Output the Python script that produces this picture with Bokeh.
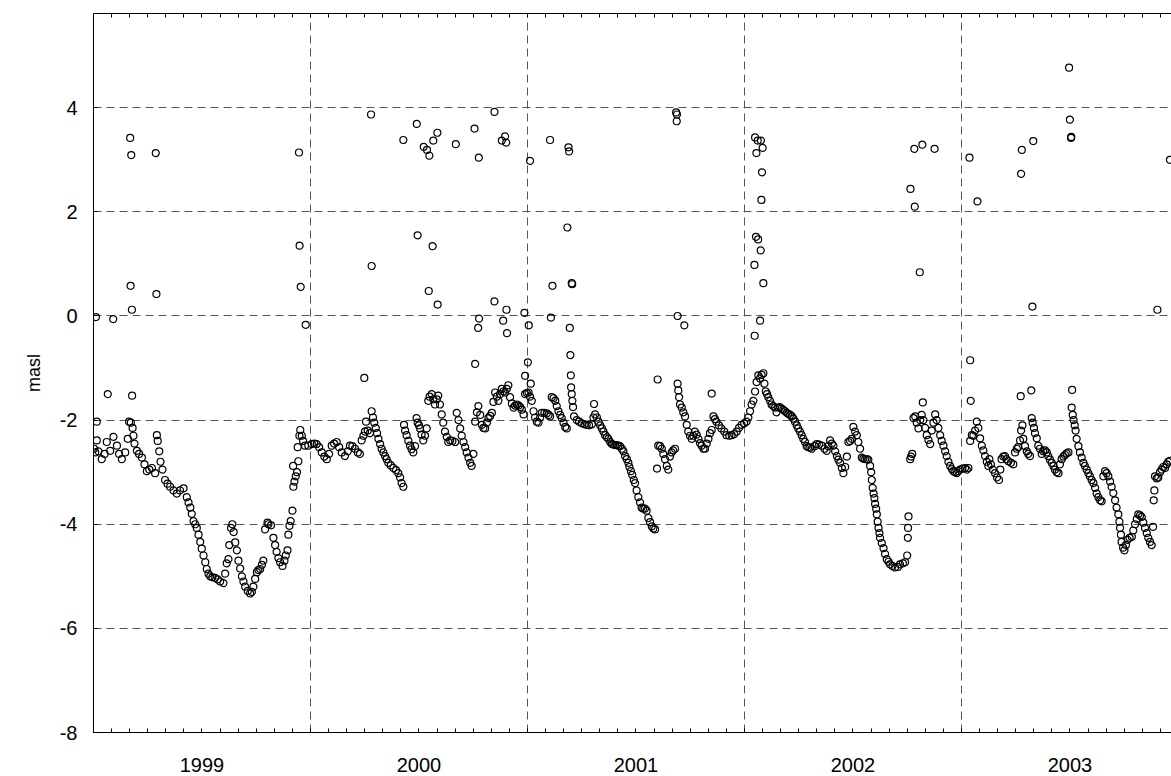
from bokeh.plotting import figure
from bokeh.models import FixedTicker, LinearAxis, Range1d, ColumnDataSource, Grid
from bokeh.embed import file_html
from bokeh.resources import INLINE

# ---- data: (decimal year, water level in masl) ----
seg_1999 = [
    (1999.003, -2.55), (1999.008, -2.62), (1999.015, -2.39), (1999.023, -2.60), (1999.038, -2.75),
    (1999.051, -2.65), (1999.061, -2.42), (1999.077, -2.59), (1999.092, -2.32), (1999.108, -2.49),
    (1999.118, -2.65), (1999.131, -2.75), (1999.146, -2.62), (1999.158, -2.36), (1999.164, -2.03),
    (1999.172, -2.05), (1999.180, -2.15), (1999.184, -2.30), (1999.189, -2.45), (1999.200, -2.59),
    (1999.210, -2.65), (1999.223, -2.72), (1999.235, -2.85), (1999.246, -2.98), (1999.257, -2.95),
    (1999.269, -2.92), (1999.284, -3.02), (1999.292, -2.29), (1999.296, -2.40), (1999.303, -2.60),
    (1999.309, -2.80), (1999.318, -2.95), (1999.330, -3.15), (1999.341, -3.22), (1999.353, -3.28),
    (1999.369, -3.35), (1999.384, -3.41), (1999.399, -3.35), (1999.415, -3.31), (1999.430, -3.48),
    (1999.438, -3.58), (1999.446, -3.68), (1999.453, -3.80), (1999.461, -3.94), (1999.469, -4.00),
    (1999.476, -4.07), (1999.484, -4.20), (1999.492, -4.34), (1999.499, -4.47), (1999.507, -4.60),
    (1999.515, -4.73), (1999.522, -4.86), (1999.530, -4.95), (1999.538, -5.00), (1999.548, -5.02),
    (1999.561, -5.03), (1999.573, -5.06), (1999.584, -5.10), (1999.599, -5.13), (1999.607, -4.95),
    (1999.614, -4.75), (1999.622, -4.67), (1999.626, -4.40), (1999.634, -4.07), (1999.640, -4.00),
    (1999.646, -4.15), (1999.653, -4.35), (1999.661, -4.50), (1999.668, -4.70), (1999.676, -4.85),
    (1999.684, -5.00), (1999.691, -5.10), (1999.699, -5.20), (1999.711, -5.28), (1999.722, -5.33),
    (1999.730, -5.30), (1999.737, -5.20), (1999.745, -5.05), (1999.753, -4.92), (1999.760, -4.88),
    (1999.768, -4.86), (1999.776, -4.78), (1999.783, -4.70), (1999.791, -4.10), (1999.802, -3.97),
    (1999.806, -4.00), (1999.818, -4.02), (1999.829, -4.26), (1999.837, -4.40), (1999.844, -4.53),
    (1999.852, -4.65), (1999.860, -4.73), (1999.871, -4.80), (1999.880, -4.70), (1999.886, -4.60),
    (1999.894, -4.50), (1999.898, -4.20), (1999.903, -4.03), (1999.909, -3.94), (1999.917, -3.74),
    (1999.920, -2.88), (1999.921, -3.28), (1999.926, -3.18), (1999.932, -3.08), (1999.938, -3.00),
    (1999.941, -2.52), (1999.944, -2.79), (1999.949, -2.30), (1999.953, -2.19), (1999.960, -2.30),
    (1999.966, -2.40), (1999.975, -2.49), (1999.990, -2.49),
]
seg_2000 = [
    (2000.006, -2.46), (2000.018, -2.45), (2000.029, -2.46), (2000.040, -2.52), (2000.052, -2.62),
    (2000.064, -2.70), (2000.075, -2.75), (2000.086, -2.65), (2000.098, -2.49), (2000.109, -2.45),
    (2000.121, -2.42), (2000.132, -2.52), (2000.144, -2.62), (2000.159, -2.69), (2000.172, -2.60),
    (2000.182, -2.49), (2000.193, -2.50), (2000.205, -2.55), (2000.218, -2.62), (2000.228, -2.65),
    (2000.236, -2.39), (2000.244, -2.30), (2000.251, -2.22), (2000.264, -2.20), (2000.274, -2.25),
    (2000.282, -1.83), (2000.288, -1.95), (2000.294, -2.05), (2000.301, -2.15), (2000.307, -2.25),
    (2000.313, -2.36), (2000.321, -2.46), (2000.328, -2.55), (2000.336, -2.62), (2000.344, -2.69),
    (2000.351, -2.75), (2000.359, -2.82), (2000.370, -2.87), (2000.382, -2.92), (2000.394, -2.96),
    (2000.405, -3.02), (2000.413, -3.10), (2000.420, -3.21), (2000.428, -3.28), (2000.431, -2.09),
    (2000.436, -2.20), (2000.443, -2.29), (2000.451, -2.40), (2000.459, -2.49), (2000.466, -2.56),
    (2000.474, -2.62), (2000.482, -2.50), (2000.489, -1.96), (2000.494, -2.05), (2000.500, -2.10),
    (2000.505, -2.16), (2000.512, -2.28), (2000.520, -2.39), (2000.528, -2.30), (2000.536, -2.16),
    (2000.543, -1.63), (2000.549, -1.55), (2000.559, -1.50), (2000.566, -1.60), (2000.574, -1.70),
    (2000.582, -1.60), (2000.589, -1.53), (2000.597, -1.70), (2000.605, -1.89), (2000.612, -2.05),
    (2000.620, -2.22), (2000.628, -2.32), (2000.635, -2.42), (2000.644, -2.39), (2000.654, -2.40),
    (2000.667, -2.42), (2000.674, -1.86), (2000.682, -2.00), (2000.690, -2.16), (2000.697, -2.30),
    (2000.705, -2.42), (2000.713, -2.52), (2000.720, -2.62), (2000.728, -2.72), (2000.736, -2.82),
    (2000.743, -2.88), (2000.751, -2.65), (2000.759, -2.03), (2000.767, -1.85), (2000.774, -1.73),
    (2000.782, -1.90), (2000.790, -2.09), (2000.797, -2.15), (2000.805, -2.16), (2000.813, -2.05),
    (2000.820, -1.96), (2000.828, -1.92), (2000.836, -1.86), (2000.843, -1.65), (2000.851, -1.47),
    (2000.859, -1.55), (2000.866, -1.63), (2000.874, -1.50), (2000.882, -1.40), (2000.889, -1.45),
    (2000.897, -1.47), (2000.905, -1.40), (2000.912, -1.33), (2000.920, -1.56), (2000.928, -1.68),
    (2000.936, -1.76), (2000.943, -1.72), (2000.951, -1.70), (2000.959, -1.72), (2000.966, -1.75),
    (2000.974, -1.80), (2000.982, -1.89), (2000.989, -1.50), (2000.997, -1.48),
]
seg_2001 = [
    (2001.005, -1.47), (2001.012, -1.55), (2001.020, -1.63), (2001.028, -1.83), (2001.035, -1.95),
    (2001.043, -2.03), (2001.051, -2.05), (2001.058, -1.95), (2001.066, -1.86), (2001.078, -1.86),
    (2001.089, -1.87), (2001.097, -1.90), (2001.104, -1.93), (2001.112, -1.56), (2001.120, -1.58),
    (2001.128, -1.63), (2001.135, -1.73), (2001.143, -1.83), (2001.151, -1.90), (2001.158, -1.96),
    (2001.166, -2.05), (2001.174, -2.13), (2001.181, -2.16), (2001.201, -1.37), (2001.204, -1.50),
    (2001.207, -1.63), (2001.210, -1.75), (2001.215, -1.93), (2001.227, -2.00), (2001.238, -2.03),
    (2001.250, -2.06), (2001.263, -2.08), (2001.273, -2.09), (2001.284, -2.10), (2001.297, -2.08),
    (2001.304, -1.95), (2001.312, -1.89), (2001.320, -1.95), (2001.327, -2.03), (2001.335, -2.10),
    (2001.343, -2.16), (2001.350, -2.22), (2001.358, -2.29), (2001.366, -2.33), (2001.373, -2.36),
    (2001.381, -2.42), (2001.389, -2.46), (2001.396, -2.47), (2001.404, -2.48), (2001.412, -2.48),
    (2001.419, -2.49), (2001.427, -2.50), (2001.435, -2.55), (2001.442, -2.60), (2001.450, -2.69),
    (2001.458, -2.75), (2001.465, -2.82), (2001.470, -2.90), (2001.477, -2.98), (2001.483, -3.05),
    (2001.490, -3.15), (2001.496, -3.21), (2001.503, -3.35), (2001.511, -3.48), (2001.519, -3.58),
    (2001.526, -3.68), (2001.534, -3.70), (2001.542, -3.70), (2001.549, -3.74), (2001.557, -3.88),
    (2001.565, -3.96), (2001.573, -4.04), (2001.580, -4.08), (2001.588, -4.10),
    (2001.603, -2.49), (2001.611, -2.50), (2001.619, -2.55), (2001.626, -2.65), (2001.634, -2.75),
    (2001.642, -2.88), (2001.649, -2.95), (2001.657, -2.70), (2001.665, -2.62), (2001.672, -2.58),
    (2001.680, -2.55), (2001.692, -1.30), (2001.695, -1.43), (2001.699, -1.56), (2001.703, -1.70),
    (2001.711, -1.76), (2001.718, -1.85), (2001.726, -1.93), (2001.734, -2.09), (2001.741, -2.22),
    (2001.749, -2.30), (2001.757, -2.36), (2001.764, -2.30), (2001.772, -2.22), (2001.780, -2.28),
    (2001.788, -2.36), (2001.795, -2.44), (2001.803, -2.49), (2001.811, -2.55), (2001.818, -2.55),
    (2001.826, -2.45), (2001.834, -2.36), (2001.841, -2.25), (2001.849, -2.19), (2001.857, -1.93),
    (2001.864, -1.98), (2001.871, -2.03), (2001.882, -2.10), (2001.894, -2.16), (2001.907, -2.22),
    (2001.917, -2.29), (2001.930, -2.30), (2001.941, -2.29), (2001.953, -2.27), (2001.964, -2.22),
    (2001.975, -2.15), (2001.987, -2.09), (2001.999, -2.06),
]
seg_2002 = [
    (2002.010, -2.03), (2002.018, -1.95), (2002.026, -1.83), (2002.033, -1.70), (2002.041, -1.63),
    (2002.049, -1.45), (2002.056, -1.27), (2002.064, -1.14), (2002.072, -1.20), (2002.079, -1.13),
    (2002.087, -1.10), (2002.092, -1.30), (2002.098, -1.45), (2002.104, -1.50), (2002.110, -1.56),
    (2002.118, -1.63), (2002.125, -1.70), (2002.133, -1.73), (2002.141, -1.76), (2002.148, -1.85),
    (2002.156, -1.76), (2002.164, -1.75), (2002.171, -1.78), (2002.179, -1.80), (2002.187, -1.83),
    (2002.195, -1.86), (2002.202, -1.88), (2002.210, -1.90), (2002.218, -1.93), (2002.225, -1.97),
    (2002.233, -2.03), (2002.241, -2.10), (2002.248, -2.16), (2002.256, -2.22), (2002.264, -2.29),
    (2002.271, -2.36), (2002.279, -2.42), (2002.287, -2.50), (2002.295, -2.52), (2002.303, -2.53),
    (2002.310, -2.55), (2002.323, -2.50), (2002.333, -2.46), (2002.344, -2.47), (2002.356, -2.49),
    (2002.369, -2.55), (2002.379, -2.59), (2002.387, -2.50), (2002.395, -2.39), (2002.403, -2.45),
    (2002.410, -2.49), (2002.418, -2.60), (2002.426, -2.69), (2002.433, -2.76), (2002.441, -2.82),
    (2002.449, -2.92), (2002.456, -3.02), (2002.464, -2.90), (2002.472, -2.70), (2002.479, -2.42),
    (2002.487, -2.40), (2002.495, -2.36), (2002.502, -2.13), (2002.510, -2.22), (2002.518, -2.29),
    (2002.525, -2.42), (2002.533, -2.55), (2002.541, -2.72), (2002.548, -2.74), (2002.556, -2.75),
    (2002.564, -2.75), (2002.571, -2.76), (2002.579, -2.88), (2002.584, -3.00), (2002.587, -3.15),
    (2002.591, -3.30), (2002.595, -3.41), (2002.599, -3.50), (2002.602, -3.61), (2002.607, -3.70),
    (2002.610, -3.81), (2002.614, -3.95), (2002.618, -4.07), (2002.622, -4.17), (2002.625, -4.26),
    (2002.633, -4.36), (2002.641, -4.46), (2002.648, -4.57), (2002.656, -4.67), (2002.664, -4.72),
    (2002.671, -4.77), (2002.682, -4.80), (2002.694, -4.83), (2002.707, -4.82), (2002.717, -4.77),
    (2002.730, -4.75), (2002.740, -4.73), (2002.750, -4.60), (2002.753, -4.26), (2002.754, -4.07),
    (2002.756, -3.85), (2002.764, -2.75), (2002.768, -2.70), (2002.773, -2.65), (2002.779, -1.96),
    (2002.787, -1.93), (2002.794, -2.05), (2002.802, -2.16), (2002.810, -2.00), (2002.817, -1.90),
    (2002.822, -1.66), (2002.825, -2.00), (2002.833, -2.15), (2002.840, -2.29), (2002.848, -2.38),
    (2002.856, -2.46), (2002.863, -2.20), (2002.871, -2.05), (2002.879, -1.89), (2002.886, -2.00),
    (2002.894, -2.15), (2002.902, -2.29), (2002.909, -2.40), (2002.917, -2.49), (2002.925, -2.60),
    (2002.932, -2.69), (2002.940, -2.80), (2002.948, -2.88), (2002.956, -2.94), (2002.963, -2.98),
    (2002.971, -3.00), (2002.979, -3.02), (2002.986, -2.98), (2002.994, -2.95),
]
seg_2003 = [
    (2003.005, -2.93), (2003.017, -2.92), (2003.025, -2.95), (2003.032, -2.92), (2003.040, -2.40),
    (2003.048, -2.29), (2003.055, -2.30), (2003.063, -2.20), (2003.071, -2.03), (2003.078, -2.15),
    (2003.086, -2.35), (2003.094, -2.49), (2003.101, -2.58), (2003.109, -2.69), (2003.117, -2.80),
    (2003.124, -2.88), (2003.129, -2.75), (2003.136, -2.85), (2003.145, -2.95), (2003.155, -3.02),
    (2003.164, -3.10), (2003.173, -3.15), (2003.179, -2.95), (2003.185, -2.75), (2003.193, -2.70),
    (2003.201, -2.69), (2003.208, -2.75), (2003.216, -2.79), (2003.228, -2.82), (2003.239, -2.85),
    (2003.247, -2.62), (2003.255, -2.55), (2003.262, -2.52), (2003.270, -2.39), (2003.275, -2.20),
    (2003.281, -2.10), (2003.285, -2.36), (2003.293, -2.50), (2003.301, -2.60), (2003.308, -2.65),
    (2003.316, -2.69), (2003.324, -1.96), (2003.328, -2.05), (2003.334, -2.15), (2003.339, -2.25),
    (2003.347, -2.35), (2003.354, -2.49), (2003.362, -2.55), (2003.370, -2.65), (2003.377, -2.60),
    (2003.385, -2.58), (2003.393, -2.62), (2003.400, -2.69), (2003.408, -2.76), (2003.416, -2.82),
    (2003.424, -2.88), (2003.431, -2.95), (2003.439, -3.00), (2003.447, -3.02), (2003.454, -2.85),
    (2003.462, -2.75), (2003.470, -2.70), (2003.477, -2.67), (2003.485, -2.64), (2003.493, -2.62),
    (2003.508, -1.76), (2003.513, -1.90), (2003.517, -2.00), (2003.522, -2.10), (2003.526, -2.20),
    (2003.531, -2.36), (2003.539, -2.50), (2003.546, -2.62), (2003.554, -2.72), (2003.562, -2.82),
    (2003.569, -2.88), (2003.577, -2.95), (2003.585, -3.02), (2003.592, -3.08), (2003.600, -3.15),
    (2003.608, -3.21), (2003.616, -3.30), (2003.623, -3.41), (2003.631, -3.48), (2003.639, -3.54),
    (2003.646, -3.56), (2003.654, -3.08), (2003.662, -2.98), (2003.669, -3.02), (2003.677, -3.08),
    (2003.685, -3.18), (2003.692, -3.28), (2003.700, -3.40), (2003.708, -3.54), (2003.715, -3.68),
    (2003.723, -3.81), (2003.728, -3.95), (2003.731, -4.07), (2003.735, -4.20), (2003.738, -4.34),
    (2003.745, -4.45), (2003.751, -4.50), (2003.758, -4.40), (2003.766, -4.30), (2003.775, -4.26),
    (2003.785, -4.24), (2003.792, -4.12), (2003.800, -4.00), (2003.808, -3.90), (2003.815, -3.81),
    (2003.823, -3.83), (2003.831, -3.86), (2003.838, -3.97), (2003.846, -4.07), (2003.854, -4.17),
    (2003.861, -4.26), (2003.869, -4.34), (2003.877, -4.40), (2003.883, -4.05), (2003.886, -3.54),
    (2003.889, -3.35), (2003.892, -3.08), (2003.900, -3.12), (2003.907, -3.10), (2003.915, -3.00),
    (2003.923, -2.95), (2003.930, -2.90), (2003.938, -2.92), (2003.946, -2.85), (2003.953, -2.80),
    (2003.961, -2.78),
]
# isolated spikes (sensor errors)
spikes = [
    (1999.169, 3.42), (1999.174, 3.09), (1999.287, 3.13), (1999.171, 0.58), (1999.290, 0.42),
    (1999.177, 0.12), (1999.011, -0.02), (1999.091, -0.06), (1999.066, -1.50), (1999.178, -1.53),
    (1999.015, -2.03),
    (1999.947, 3.14), (2000.279, 3.87), (2000.428, 3.38), (2000.490, 3.69), (2000.522, 3.25),
    (2000.537, 3.19), (2000.548, 3.08), (2000.566, 3.37), (2000.585, 3.52), (1999.950, 1.35),
    (1999.955, 0.56), (1999.978, -0.17), (2000.494, 1.55), (2000.563, 1.34), (2000.282, 0.96),
    (2000.545, 0.48), (2000.586, 0.22), (2000.248, -1.19), (2000.256, -2.03),
    (2000.670, 3.30), (2000.756, 3.60), (2000.776, 3.04), (2000.848, 3.92), (2000.882, 3.37),
    (2000.897, 3.45), (2000.902, 3.33), (2001.012, 2.98), (2001.104, 3.38), (2001.189, 3.24),
    (2001.192, 3.16), (2001.184, 1.70), (2001.115, 0.58), (2001.204, 0.63), (2001.206, 0.61),
    (2000.848, 0.28), (2000.903, 0.12), (2000.777, -0.05), (2000.888, -0.09), (2000.986, 0.06),
    (2001.108, -0.03), (2000.773, -0.23), (2000.906, -0.33), (2001.006, -0.18), (2001.195, -0.23),
    (2000.759, -0.92), (2001.002, -0.89), (2000.989, -1.15), (2001.015, -1.30), (2001.198, -0.75),
    (2001.200, -1.14), (2001.307, -1.69),
    (2001.685, 3.91), (2001.689, 3.87), (2001.688, 3.74), (2002.049, 3.43), (2002.061, 3.37),
    (2002.076, 3.37), (2002.084, 3.23), (2002.055, 3.13), (2002.081, 2.76), (2002.078, 2.23),
    (2002.053, 1.52), (2002.063, 1.47), (2002.075, 1.26), (2002.046, 0.98), (2002.087, 0.63),
    (2001.692, 0.00), (2001.723, -0.18), (2002.072, -0.09), (2002.047, -0.38), (2001.600, -1.22),
    (2001.597, -2.93), (2001.849, -1.49),
    (2002.783, 3.21), (2002.820, 3.29), (2002.876, 3.21), (2002.765, 2.44), (2002.785, 2.10),
    (2002.808, 0.84), (2003.037, 3.04), (2003.074, 2.20), (2003.040, -0.85), (2003.043, -1.63),
    (2003.496, 4.77), (2003.500, 3.77), (2003.505, 3.42), (2003.506, 3.44), (2003.331, 3.36),
    (2003.278, 3.19), (2003.275, 2.73), (2003.961, 3.00), (2003.327, 0.18), (2003.903, 0.12),
    (2003.273, -1.54), (2003.322, -1.43), (2003.510, -1.42),
]
years = [1999, 2000, 2001, 2002, 2003]
y_ticks = [-8, -6, -4, -2, 0, 2, 4]

all_pts = seg_1999 + seg_2000 + seg_2001 + seg_2002 + seg_2003 + spikes
src = ColumnDataSource(data=dict(t=[p[0] for p in all_pts], h=[p[1] for p in all_pts]))

FONT = "Liberation Sans"
p = figure(width=1171, height=776, output_backend="svg", toolbar_location=None,
           x_range=Range1d(1999.0, 2003.968), y_range=Range1d(-8, 5.81),
           x_axis_type=None, y_axis_type=None,
           min_border_left=93, min_border_right=0, min_border_top=13, min_border_bottom=44)
p.outline_line_color = None
p.background_fill_color = "white"
p.border_fill_color = "white"

months = [y + m / 12 for y in range(1999, 2005) for m in range(12)]
label_ticks = [y + 0.5 for y in years]

xb = LinearAxis(ticker=FixedTicker(ticks=label_ticks, minor_ticks=months))
xb.major_label_overrides = {y + 0.5: str(y) for y in years}
xb.major_tick_line_color = None
xb.minor_tick_in = 4
xb.minor_tick_out = 0
xb.major_label_standoff = 19
xb.major_label_text_font = FONT
xb.major_label_text_font_size = "20px"
xb.major_label_text_color = "black"
xb.axis_line_color = "black"
p.add_layout(xb, "below")

xt = LinearAxis(ticker=FixedTicker(ticks=[], minor_ticks=months))
xt.major_label_standoff = 0
xt.major_tick_line_color = None
xt.minor_tick_in = 4
xt.minor_tick_out = 0
xt.axis_line_color = "black"
p.add_layout(xt, "above")

yl = LinearAxis(ticker=FixedTicker(ticks=y_ticks))
yl.major_label_overrides = {v: str(v) for v in y_ticks}
yl.axis_label = "masl"
yl.axis_label_text_font = FONT
yl.axis_label_text_font_size = "18px"
yl.axis_label_text_font_style = "normal"
yl.axis_label_text_color = "black"
yl.axis_label_standoff = 13
yl.major_label_text_font = FONT
yl.major_label_text_font_size = "20px"
yl.major_label_text_color = "black"
yl.major_label_standoff = 16
yl.major_tick_in = 4
yl.major_tick_out = 0
yl.minor_tick_line_color = None
yl.axis_line_color = "black"
p.add_layout(yl, "left")

gx = Grid(dimension=0, ticker=FixedTicker(ticks=[2000, 2001, 2002, 2003]),
          grid_line_color="#555555", grid_line_dash="8 5", grid_line_width=1)
gy = Grid(dimension=1, ticker=FixedTicker(ticks=y_ticks[1:]),
          grid_line_color="#555555", grid_line_dash="8 5", grid_line_width=1)
p.add_layout(gx)
p.add_layout(gy)

p.scatter("t", "h", source=src, marker="circle", size=7, fill_color=None,
          line_color="black", line_width=1.2)

open("out.html", "w").write(file_html(p, INLINE))
